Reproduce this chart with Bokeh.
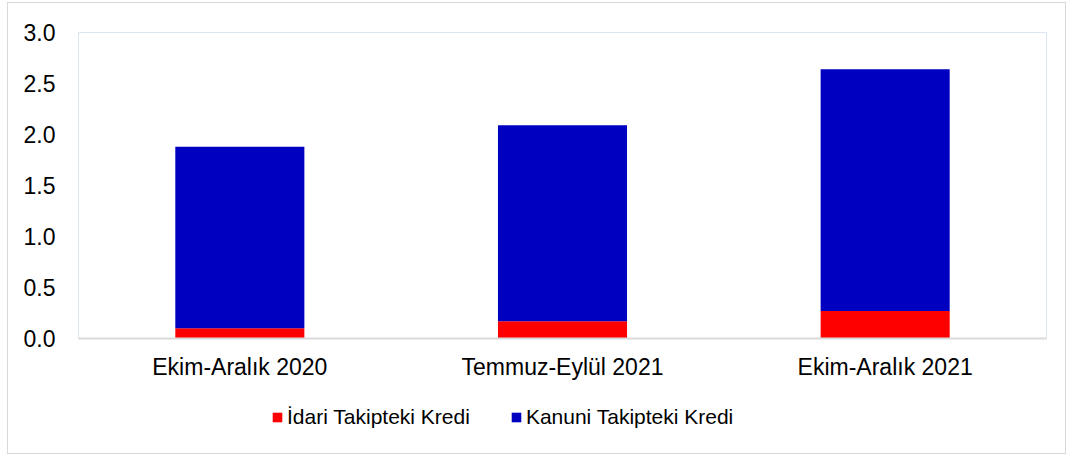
from bokeh.plotting import figure
from bokeh.models import FactorRange, Range1d, Legend, LegendItem, NumeralTickFormatter, FixedTicker
from bokeh.layouts import column
from bokeh.embed import file_html
from bokeh.resources import INLINE

categories = ["Ekim-Aralık 2020", "Temmuz-Eylül 2021", "Ekim-Aralık 2021"]
idari = [0.10, 0.17, 0.27]
kanuni = [1.78, 1.92, 2.37]
series_names = ["İdari Takipteki Kredi", "Kanuni Takipteki Kredi"]
colors = ["#FF0000", "#0000C0"]
y_ticks = [0.0, 0.5, 1.0, 1.5, 2.0, 2.5, 3.0]

FONT = "Liberation Sans"

p = figure(
    width=1057, height=392,
    x_range=FactorRange(*categories, range_padding=0),
    y_range=Range1d(0, 3.0),
    output_backend="svg", toolbar_location=None,
    min_border_left=70, min_border_right=19, min_border_top=29, min_border_bottom=57,
)

data = {"cat": categories, "idari": idari, "kanuni": kanuni}
rs = p.vbar_stack(["idari", "kanuni"], x="cat", width=0.4, source=data,
                  color=colors, line_color=None)

p.xgrid.grid_line_color = None
p.ygrid.grid_line_color = None
p.outline_line_color = "#dce6f2"
p.outline_line_width = 1

p.yaxis.ticker = FixedTicker(ticks=y_ticks)
p.yaxis.formatter = NumeralTickFormatter(format="0.0")
p.yaxis.axis_line_color = None
p.yaxis.major_tick_line_color = None
p.yaxis.minor_tick_line_color = None
p.yaxis.major_label_text_font = FONT
p.yaxis.major_label_text_font_size = "23px"
p.yaxis.major_label_text_color = "#000000"
p.yaxis.major_label_standoff = 17

p.xaxis.axis_line_color = "#d9d9d9"
p.xaxis.axis_line_width = 2
p.xaxis.major_tick_line_color = None
p.xaxis.minor_tick_line_color = None
p.xaxis.major_label_text_font = FONT
p.xaxis.major_label_text_font_size = "23px"
p.xaxis.major_label_text_color = "#000000"
p.xaxis.major_label_standoff = 9

# legend strip
pl = figure(
    width=1057, height=58,
    x_range=Range1d(0, 1), y_range=Range1d(0, 1),
    output_backend="svg", toolbar_location=None,
    x_axis_location=None, y_axis_location=None,
    min_border=0,
)
pl.xgrid.grid_line_color = None
pl.ygrid.grid_line_color = None
pl.outline_line_color = None
dummy = [pl.vbar(x=[5], top=[0], width=0.1, color=c, line_color=None) for c in colors]

legend = Legend(
    items=[LegendItem(label=series_names[i], renderers=[dummy[i]]) for i in range(2)],
    orientation="horizontal",
    location=(193, 24),
    glyph_width=12, glyph_height=12,
    label_text_font=FONT, label_text_font_size="21px", label_text_color="#000000",
    label_standoff=4, spacing=40, padding=0, margin=0,
    border_line_color=None, background_fill_alpha=0,
)
pl.add_layout(legend, "center")

layout = column(p, pl, spacing=0)
layout.styles = {"border": "1px solid #d9d9d9", "margin-left": "7px", "margin-top": "2px"}

open("out.html", "w").write(file_html(layout, INLINE))
